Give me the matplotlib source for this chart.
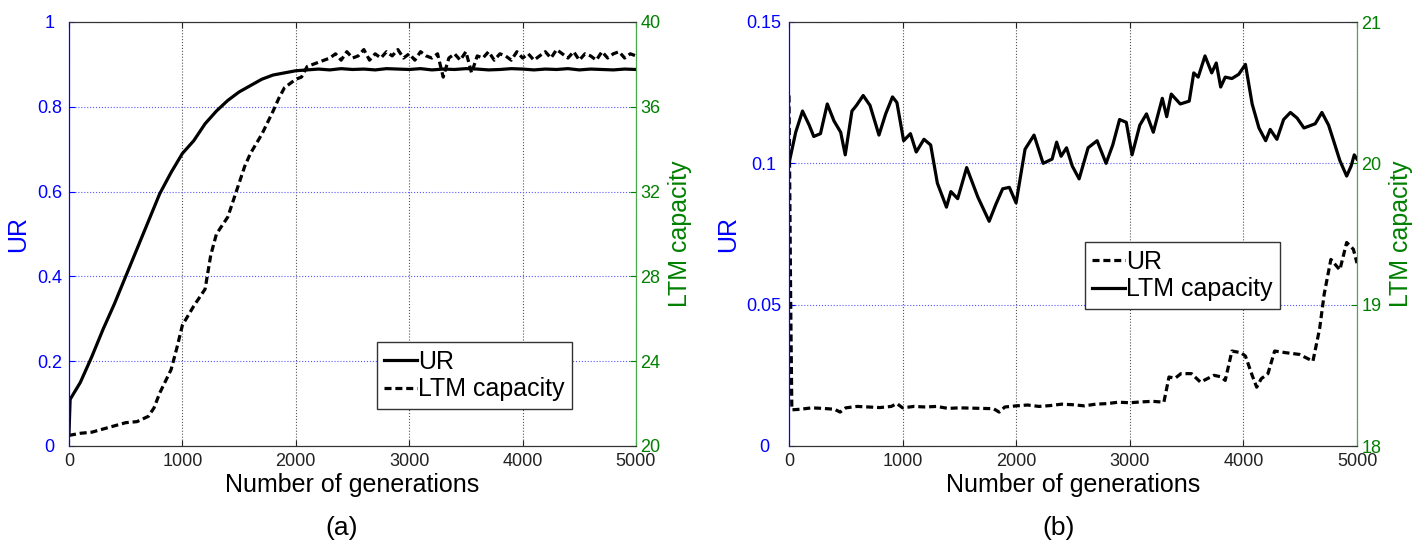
import numpy as np
import matplotlib.pyplot as plt

plt.rcParams['font.family'] = ['Liberation Sans', 'DejaVu Sans']

# ---------------- panel (a) ----------------
gen_a_ur = [0, 10, 100, 200, 300, 400, 500, 600, 700, 800, 900, 1000, 1100,
            1200, 1300, 1400, 1500, 1600, 1700, 1800, 1900, 2000, 2100] + list(range(2200, 5001, 100))
ur_a = [0.03, 0.11, 0.15, 0.21, 0.275, 0.335, 0.40, 0.465, 0.53, 0.595, 0.645, 0.69, 0.72,
        0.76, 0.79, 0.815, 0.835, 0.85, 0.865, 0.875, 0.88, 0.885, 0.887,
        0.889, 0.887, 0.890, 0.888, 0.889, 0.887, 0.890, 0.889, 0.888, 0.890,
        0.887, 0.889, 0.888, 0.890, 0.889, 0.887, 0.888, 0.890, 0.889, 0.887,
        0.889, 0.888, 0.890, 0.887, 0.889, 0.888, 0.887, 0.889, 0.888]

gen_a_ltm = [0, 100, 200, 300, 400, 500, 600, 700, 750, 800, 900, 950, 1000, 1100, 1200,
             1250, 1300, 1400, 1500, 1550, 1600, 1700, 1800, 1850, 1900, 2000, 2050, 2100,
             2200, 2300] + list(range(2350, 5001, 50))
ltm_a = [20.5, 20.6, 20.65, 20.8, 20.95, 21.1, 21.15, 21.4, 21.8, 22.5, 23.6, 24.6, 25.7, 26.6, 27.4,
         29.0, 30.0, 30.8, 32.4, 33.2, 33.8, 34.7, 35.8, 36.4, 36.9, 37.3, 37.4, 37.9,
         38.1, 38.3,
         38.5, 38.2, 38.6, 38.3, 38.4, 38.7, 38.2, 38.5, 38.3, 38.6,
         38.4, 38.7, 38.3, 38.5, 38.2, 38.6, 38.4, 38.3, 38.5, 37.4,
         38.3, 38.5, 38.2, 38.6, 37.6, 38.4, 38.3, 38.6, 38.2, 38.5,
         38.4, 38.2, 38.6, 38.3, 38.5, 38.2, 38.4, 38.6, 38.3, 38.7,
         38.5, 38.3, 38.6, 38.2, 38.5, 38.4, 38.2, 38.6, 38.3, 38.5,
         38.6, 38.3, 38.5, 38.4]

# ---------------- panel (b) ----------------
gen_b_ur = [0, 15, 25, 100, 200, 300, 400, 450, 500, 600, 700, 800, 900, 950, 1000, 1100,
            1200, 1300, 1400, 1500, 1600, 1700, 1800, 1850, 1900, 2000, 2100, 2200, 2300,
            2400, 2500, 2600, 2700, 2800, 2900, 3000, 3100, 3200, 3300, 3345, 3400, 3450,
            3543, 3622, 3741, 3800, 3840, 3899, 3979, 4018, 4077, 4117, 4157, 4216, 4275,
            4374, 4493, 4612, 4671, 4711, 4770, 4849, 4909, 4968, 5000]
ur_b = [0.124, 0.05, 0.0128, 0.013, 0.0135, 0.0133, 0.013, 0.012, 0.0135, 0.014, 0.0138,
        0.0136, 0.014, 0.015, 0.0135, 0.014, 0.0138, 0.014, 0.0133, 0.0135, 0.0134, 0.0133,
        0.0132, 0.012, 0.0138, 0.0142, 0.0145, 0.014, 0.0143, 0.0148, 0.0146, 0.0142,
        0.0148, 0.0150, 0.0155, 0.0153, 0.0156, 0.0158, 0.0155, 0.0244, 0.024, 0.0256,
        0.0256, 0.0226, 0.025, 0.0245, 0.0232, 0.0336, 0.033, 0.0318, 0.025, 0.0208,
        0.0238, 0.0256, 0.0336, 0.033, 0.0324, 0.030, 0.0415, 0.0537, 0.066, 0.0623,
        0.072, 0.0696, 0.0647]

gen_b_ltm = [0, 59, 119, 178, 218, 277, 337, 396, 455, 495, 554, 594, 653, 713, 792, 851,
             911, 950, 1009, 1069, 1120, 1188, 1247, 1306, 1386, 1425, 1485, 1564, 1663,
             1762, 1821, 1881, 1940, 1999, 2078, 2157, 2237, 2316, 2356, 2395, 2443, 2494,
             2554, 2633, 2712, 2791, 2850, 2910, 2969, 3020, 3088, 3147, 3207, 3286, 3325,
             3365, 3444, 3523, 3563, 3602, 3662, 3721, 3761, 3800, 3840, 3899, 3959, 4018,
             4077, 4137, 4196, 4236, 4295, 4354, 4414, 4473, 4533, 4632, 4691, 4750, 4790,
             4849, 4909, 4948, 4976, 5000]
ltm_b = [20.0, 20.22, 20.37, 20.27, 20.19, 20.21, 20.42, 20.30, 20.22, 20.06, 20.37, 20.41,
         20.48, 20.41, 20.20, 20.35, 20.47, 20.43, 20.16, 20.21, 20.08, 20.17, 20.13, 19.86,
         19.69, 19.80, 19.75, 19.97, 19.76, 19.59, 19.71, 19.82, 19.83, 19.72, 20.10, 20.20,
         20.0, 20.03, 20.15, 20.05, 20.11, 19.98, 19.89, 20.11, 20.16, 20.0, 20.13, 20.31,
         20.29, 20.06, 20.27, 20.35, 20.22, 20.46, 20.33, 20.49, 20.42, 20.44, 20.64, 20.61,
         20.76, 20.64, 20.71, 20.54, 20.61, 20.60, 20.63, 20.70, 20.42, 20.25, 20.16, 20.24,
         20.17, 20.31, 20.36, 20.32, 20.25, 20.28, 20.36, 20.27, 20.17, 20.02, 19.91, 19.98,
         20.06, 20.03]

x_ticks = [0, 1000, 2000, 3000, 4000, 5000]
ur_ticks_a = [0, 0.2, 0.4, 0.6, 0.8, 1]
ur_labels_a = ['0', '0.2', '0.4', '0.6', '0.8', '1']
ltm_ticks_a = [20, 24, 28, 32, 36, 40]
ur_ticks_b = [0, 0.05, 0.1, 0.15]
ur_labels_b = ['0', '0.05', '0.1', '0.15']
ltm_ticks_b = [18, 19, 20, 21]

BLUE = '#0000ff'
GREEN = '#008000'
DASH = (0, (2.2, 1.2))
LW = 2.3


def style_panel(ax, ax2, yt, ylab, yt2, pad_left, ur_lab_x):
    ax.set_xlim(0, 5000)
    ax.set_xticks(x_ticks)
    ax.set_yticks(yt)
    ax.set_yticklabels(ylab)
    ax.set_ylim(yt[0], yt[-1])
    ax2.set_ylim(yt2[0], yt2[-1])
    ax2.set_yticks(yt2)
    ax2.set_yticklabels([str(v) for v in yt2])

    ax.tick_params(axis='x', direction='in', length=4, labelsize=13, pad=5,
                   top=True, colors='#222222')
    ax.tick_params(axis='y', direction='in', length=4, labelsize=13, pad=pad_left,
                   colors=BLUE)
    for lab in ax.get_yticklabels():
        lab.set_horizontalalignment('center')
    ax2.tick_params(axis='y', direction='in', length=4, labelsize=13, pad=3,
                    colors=GREEN)

    # matlab style grid: grey dotted verticals, light blue dotted horizontals
    ax.xaxis.grid(True, linestyle=':', color='#555555', linewidth=0.8)
    ax.yaxis.grid(True, linestyle=':', color='#5a5aff', linewidth=0.8)

    for a in (ax, ax2):
        a.spines['top'].set_color('#333333')
        a.spines['bottom'].set_color('#333333')
        a.spines['left'].set_color(BLUE)
        a.spines['right'].set_color('#4aa64a')

    ax.set_xlabel('Number of generations', fontsize=18, labelpad=2)
    ax.set_ylabel('UR', fontsize=18, color=BLUE)
    ax.yaxis.set_label_coords(ur_lab_x, 0.5)
    ax2.set_ylabel('LTM capacity', fontsize=18, color=GREEN)
    ax2.yaxis.set_label_coords(1.056, 0.5)


fig = plt.figure(figsize=(14.24, 5.42), dpi=100)

# (a)
axa = fig.add_axes([69 / 1424, 1 - 446 / 542, 567 / 1424, 424 / 542])
axa2 = axa.twinx()
l1, = axa.plot(gen_a_ur, ur_a, color='black', linewidth=LW, label='UR')
l2, = axa2.plot(gen_a_ltm, ltm_a, color='black', linewidth=LW, linestyle=DASH, label='LTM capacity')
style_panel(axa, axa2, ur_ticks_a, ur_labels_a, ltm_ticks_a, 14, -0.069)
leg = axa2.legend(handles=[l1, l2], loc='upper left', bbox_to_anchor=(0.543, 0.245),
                  borderaxespad=0, fontsize=18, handlelength=1.3, handletextpad=0.05,
                  labelspacing=0.15, borderpad=0.3, fancybox=False, framealpha=1)
leg.get_frame().set_edgecolor('#333333')
leg.get_frame().set_linewidth(1.0)

# (b)
axb = fig.add_axes([789 / 1424, 1 - 446 / 542, 568 / 1424, 424 / 542])
axb2 = axb.twinx()
m1, = axb.plot(gen_b_ur, ur_b, color='black', linewidth=LW, linestyle=DASH, label='UR')
m2, = axb2.plot(gen_b_ltm, ltm_b, color='black', linewidth=LW, label='LTM capacity')
style_panel(axb, axb2, ur_ticks_b, ur_labels_b, ltm_ticks_b, 18, -0.086)
leg = axb2.legend(handles=[m1, m2], loc='upper left', bbox_to_anchor=(0.521, 0.481),
                  borderaxespad=0, fontsize=18, handlelength=1.3, handletextpad=0.05,
                  labelspacing=0.15, borderpad=0.3, fancybox=False, framealpha=1)
leg.get_frame().set_edgecolor('#333333')
leg.get_frame().set_linewidth(1.0)

fig.text(342 / 1424, 1 - 528 / 542, '(a)', fontsize=19, ha='center', va='center')
fig.text(1059 / 1424, 1 - 528 / 542, '(b)', fontsize=19, ha='center', va='center')

fig.savefig('out.png', dpi=100)
